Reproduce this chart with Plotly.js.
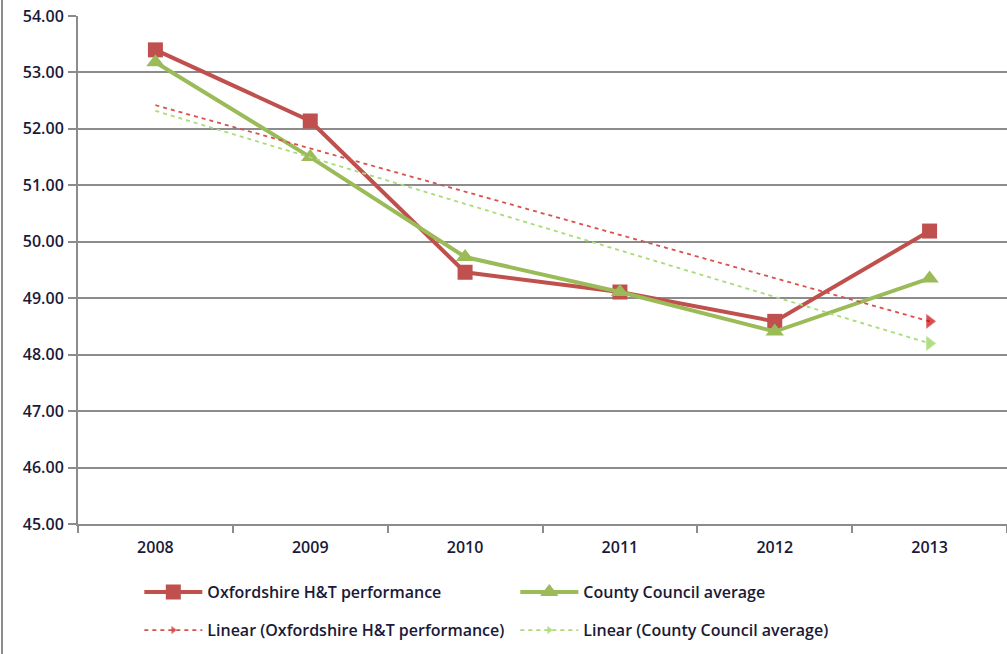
<!DOCTYPE html>
<html>
<head>
<meta charset="utf-8">
<script src="https://cdn.plot.ly/plotly-3.0.1.min.js"></script>
<style>html,body{margin:0;padding:0;background:#fff;}#chart{width:1007px;height:654px;}</style>
</head>
<body>
<div id="chart"></div>
<script>
const years = ['2008','2009','2010','2011','2012','2013'];
const oxfordshire = [53.40, 52.14, 49.46, 49.11, 48.59, 50.19];
const county = [53.18, 51.50, 49.73, 49.11, 48.41, 49.35];
const trendYears = ['2008','2013'];
const oxfordTrend = [52.42, 48.59];
const countyTrend = [52.32, 48.20];
const yTicks = [45,46,47,48,49,50,51,52,53,54];

const red = '#c0504d', green = '#9bbb59';
const font = {family: 'Open Sans, Lato, sans-serif', size: 16, color: '#1a1a38', weight: 600};

const traces = [
  {x: years, y: oxfordshire, name: 'Oxfordshire H&T performance', mode: 'lines+markers',
   line: {color: red, width: 4}, marker: {symbol: 'square', size: 15, color: red}, legend: 'legend'},
  {x: years, y: county, name: 'County Council average', mode: 'lines+markers',
   line: {color: green, width: 4}, marker: {symbol: 'triangle-up', size: 16, color: green}, legend: 'legend'},
  {x: trendYears, y: oxfordTrend, name: 'Linear (Oxfordshire H&T performance)', mode: 'lines+markers',
   line: {color: '#d9514e', width: 1.8, dash: '4px,4px'},
   marker: {symbol: 'triangle-right', size: [0, 12], color: '#cc0000'}, legend: 'legend2'},
  {x: trendYears, y: countyTrend, name: 'Linear (County Council average)', mode: 'lines+markers',
   line: {color: '#a8dc78', width: 1.8, dash: '4px,4px'},
   marker: {symbol: 'triangle-right', size: [0, 12], color: '#92d050'}, legend: 'legend2'}
];

const layout = {
  width: 1007, height: 654,
  margin: {l: 78, r: 0, t: 16, b: 130},
  paper_bgcolor: '#fff', plot_bgcolor: '#fff',
  font: font,
  showlegend: true,
  xaxis: {type: 'category', categoryorder: 'array', categoryarray: years, range: [-0.5, 5.5],
    showline: true, linecolor: '#8c8c8c', linewidth: 2, showgrid: false, zeroline: false,
    ticks: 'outside', tickson: 'boundaries', ticklen: 7, tickcolor: '#8c8c8c', tickwidth: 2,
    ticklabelstandoff: 8, tickfont: font},
  yaxis: {range: [45, 54], tickvals: yTicks, ticktext: yTicks.map(v => v.toFixed(2)),
    showline: true, linecolor: '#8c8c8c', linewidth: 2, showgrid: true, gridcolor: '#8c8c8c', gridwidth: 2,
    zeroline: false, ticks: 'outside', ticklen: 8, tickcolor: '#8c8c8c', tickwidth: 2,
    ticklabelstandoff: 1, tickfont: font},
  legend: {orientation: 'h', x: 0.066, xanchor: 'left', y: -0.134, yanchor: 'middle',
    entrywidth: 303, itemwidth: 58, font: font, bgcolor: 'rgba(0,0,0,0)'},
  legend2: {orientation: 'h', x: 0.066, xanchor: 'left', y: -0.209, yanchor: 'middle',
    entrywidth: 303, itemwidth: 58, font: font, bgcolor: 'rgba(0,0,0,0)'},
  shapes: [{type: 'line', xref: 'paper', yref: 'paper', x0: -76/929, x1: -76/929, y0: -130/508, y1: 1 + 16/508,
    line: {color: '#8c8c8c', width: 2}}]
};

Plotly.newPlot('chart', traces, layout, {displayModeBar: false, staticPlot: true});
</script>
</body>
</html>
